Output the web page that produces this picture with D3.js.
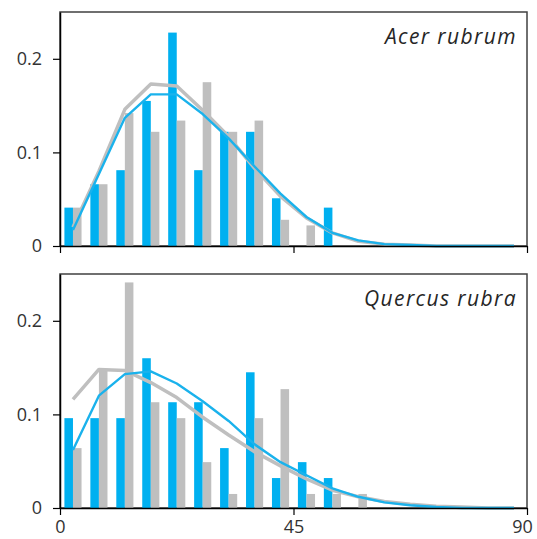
<!DOCTYPE html>
<html>
<head>
  <meta charset="utf-8">
  <script src="https://cdn.jsdelivr.net/npm/d3@7"></script>
  <style>
    body { margin: 0; background: #fff; }
    .tick text { font-family: "Open Sans", sans-serif; font-size: 18px; fill: #333; }
    .species { font-family: "Open Sans", sans-serif; font-size: 21px; font-style: italic; fill: #262626; letter-spacing: 1.4px; }
  </style>
</head>
<body>
  <script>
    // bin centres (diameter classes, width 5)
    var binCenters = [2.5, 7.5, 12.5, 17.5, 22.5, 27.5, 32.5, 37.5, 42.5, 47.5, 52.5, 57.5, 62.5, 67.5, 72.5, 77.5, 82.5, 87.5];
    var xTicks = [0, 45, 90];
    var yTicks = [0, 0.1, 0.2];

    // Acer rubrum
    var acerBlueBars = [0.041, 0.066, 0.081, 0.155, 0.228, 0.081, 0.122, 0.122, 0.051, 0, 0.041];
    var acerGrayBars = [0.041, 0.066, 0.142, 0.122, 0.134, 0.175, 0.122, 0.134, 0.028, 0.022, 0];
    var acerBlueFit = [0.017, 0.077, 0.137, 0.162, 0.162, 0.141, 0.115, 0.085, 0.056, 0.031, 0.014, 0.006, 0.002, 0.001, 0, 0, 0, 0];
    var acerGrayFit = [0.020, 0.080, 0.146, 0.173, 0.171, 0.145, 0.117, 0.083, 0.053, 0.030, 0.014, 0.005, 0.002, 0.001, 0, 0, 0, 0];

    // Quercus rubra
    var quercusBlueBars = [0.096, 0.096, 0.096, 0.160, 0.113, 0.113, 0.064, 0.145, 0.032, 0.049, 0.032, 0];
    var quercusGrayBars = [0.064, 0.148, 0.241, 0.113, 0.096, 0.049, 0.015, 0.096, 0.127, 0.015, 0.015, 0.015];
    var quercusBlueFit = [0.062, 0.120, 0.143, 0.146, 0.133, 0.114, 0.093, 0.068, 0.049, 0.035, 0.021, 0.012, 0.006, 0.003, 0.001, 0, 0, 0];
    var quercusGrayFit = [0.116, 0.148, 0.147, 0.134, 0.118, 0.097, 0.078, 0.060, 0.045, 0.031, 0.019, 0.012, 0.007, 0.004, 0.002, 0.001, 0, 0];

    var blue = "#00b0f0", gray = "#bfbfbf";
    var width = 537, height = 539;
    var left = 60, right = 527;

    var svg = d3.select("body").append("svg")
      .attr("width", width)
      .attr("height", height);

    var x = d3.scaleLinear().domain([0, 90]).range([left, right]);
    var binPx = x(5) - x(0);
    var barW = binPx * 0.33;

    var panels = [
      { name: "Acer rubrum", blueBars: acerBlueBars, grayBars: acerGrayBars, blueFit: acerBlueFit, grayFit: acerGrayFit, top: 12, bottom: 246, labels: false },
      { name: "Quercus rubra", blueBars: quercusBlueBars, grayBars: quercusGrayBars, blueFit: quercusBlueFit, grayFit: quercusGrayFit, top: 274, bottom: 508, labels: true }
    ];

    panels.forEach(function(p) {
      var y = d3.scaleLinear().domain([0, 0.25]).range([p.bottom, p.top]);
      var g = svg.append("g");

      // frame (top + right)
      g.append("rect")
        .attr("x", left).attr("y", p.top)
        .attr("width", right - left).attr("height", p.bottom - p.top)
        .attr("fill", "none").attr("stroke", "#404040").attr("stroke-width", 1.5);

      g.selectAll(".bb").data(p.blueBars).enter().append("rect")
        .attr("x", function(d, i) { return x(binCenters[i]) - barW; })
        .attr("y", function(d) { return y(d); })
        .attr("width", barW)
        .attr("height", function(d) { return p.bottom - y(d); })
        .attr("fill", blue);

      g.selectAll(".gb").data(p.grayBars).enter().append("rect")
        .attr("x", function(d, i) { return x(binCenters[i]); })
        .attr("y", function(d) { return y(d); })
        .attr("width", barW)
        .attr("height", function(d) { return p.bottom - y(d); })
        .attr("fill", gray);

      var line = d3.line()
        .x(function(d, i) { return x(binCenters[i]); })
        .y(function(d) { return y(d); });

      g.append("path").datum(p.grayFit)
        .attr("d", line).attr("fill", "none")
        .attr("stroke", gray).attr("stroke-width", 3.5)
        .attr("stroke-linejoin", "round");
      g.append("path").datum(p.blueFit)
        .attr("d", line).attr("fill", "none")
        .attr("stroke", "#1ab2ec").attr("stroke-width", 2.4)
        .attr("stroke-linejoin", "round");

      var yAxis = d3.axisLeft(y).tickValues(yTicks).tickSize(7).tickSizeOuter(0).tickPadding(11)
        .tickFormat(function(d) { return d === 0 ? "0" : d3.format(".1f")(d); });
      var ya = g.append("g").attr("transform", "translate(" + left + ",0)").call(yAxis);
      ya.select(".domain").attr("stroke", "#000").attr("stroke-width", 1.5);
      ya.selectAll(".tick line").attr("stroke", "#000").attr("stroke-width", 1.2);

      var xAxis = d3.axisBottom(x).tickValues(xTicks).tickSize(7).tickSizeOuter(0).tickPadding(5)
        .tickFormat(p.labels ? d3.format("d") : "");
      var xa = g.append("g").attr("transform", "translate(0," + p.bottom + ")").call(xAxis);
      xa.select(".domain").attr("stroke", "#000").attr("stroke-width", 1.5);
      xa.selectAll(".tick line").attr("stroke", "#000").attr("stroke-width", 1.2);
      // keep the last label inside the picture
      xa.selectAll(".tick text").filter(function(d) { return d === 90; }).attr("dx", -5);

      g.append("text").attr("class", "species")
        .attr("x", right - 10).attr("y", p.top + 32)
        .attr("text-anchor", "end")
        .text(p.name);
    });
  </script>
</body>
</html>
